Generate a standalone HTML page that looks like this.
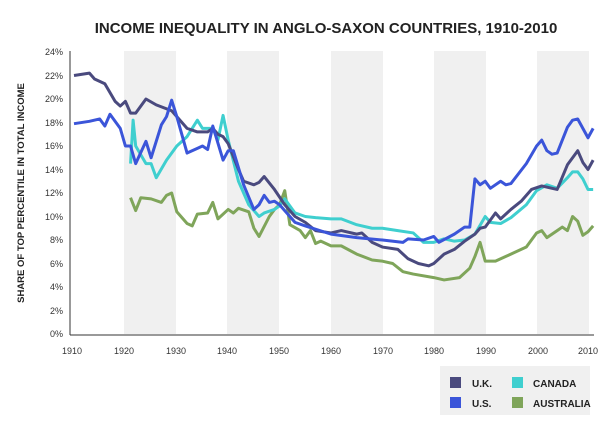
<!DOCTYPE html>
<html><head><style>
body{margin:0;background:#fff;width:600px;height:442px;overflow:hidden;font-family:"Liberation Sans",sans-serif}
</style></head><body>
<svg width="600" height="442" xmlns="http://www.w3.org/2000/svg" font-family="Liberation Sans, sans-serif">
<rect width="600" height="442" fill="#fff"/>
<text x="326" y="33" text-anchor="middle" font-size="15" font-weight="bold" fill="#222">INCOME INEQUALITY IN ANGLO-SAXON COUNTRIES, 1910-2010</text>
<g fill="#f0f0f0">
<rect x="124" y="51" width="52" height="283"/>
<rect x="227" y="51" width="52" height="283"/>
<rect x="331" y="51" width="52" height="283"/>
<rect x="434" y="51" width="52" height="283"/>
<rect x="537" y="51" width="52" height="283"/>
</g>
<g font-size="9" fill="#333" text-anchor="end">
<text x="63" y="337">0%</text><text x="63" y="314">2%</text><text x="63" y="290">4%</text><text x="63" y="267">6%</text><text x="63" y="243">8%</text><text x="63" y="220">10%</text><text x="63" y="196">12%</text><text x="63" y="173">14%</text><text x="63" y="149">16%</text><text x="63" y="126">18%</text><text x="63" y="102">20%</text><text x="63" y="79">22%</text><text x="63" y="55">24%</text>
</g>
<g font-size="9" fill="#333" text-anchor="middle">
<text x="72" y="354">1910</text><text x="124" y="354">1920</text><text x="176" y="354">1930</text><text x="227" y="354">1940</text><text x="279" y="354">1950</text><text x="331" y="354">1960</text><text x="383" y="354">1970</text><text x="434" y="354">1980</text><text x="486" y="354">1990</text><text x="538" y="354">2000</text><text x="588" y="354">2010</text>
</g>
<text transform="translate(24,193) rotate(-90)" text-anchor="middle" font-size="9.5" font-weight="bold" fill="#222">SHARE OF TOP PERCENTILE IN TOTAL INCOME</text>
<line x1="70" y1="51" x2="70" y2="335" stroke="#333" stroke-width="1"/>
<line x1="70" y1="335" x2="594" y2="335" stroke="#333" stroke-width="1"/>
<g transform="translate(74,334) scale(5.14,-11.75)" fill="none" stroke-width="3" stroke-linejoin="round">
<polyline vector-effect="non-scaling-stroke" stroke="#7fa55a" points="11,11.6 12,10.5 13,11.6 15,11.5 17,11.2 18,11.8 19,12 20,10.4 22,9.4 23,9.2 24,10.2 26,10.3 27,11.2 28,9.8 30,10.6 31,10.3 32,10.7 34,10.4 35,9 36,8.3 38,10 39,10.6 40,11 41,12.2 42,9.3 44,8.8 45,8.2 46,8.8 47,7.7 48,7.9 50,7.5 52,7.5 55,6.8 58,6.3 60,6.2 62,6 64,5.3 66,5.1 70,4.8 72,4.6 75,4.8 77,5.6 78,6.6 79,7.8 80,6.2 82,6.2 85,6.8 88,7.4 90,8.6 91,8.8 92,8.2 94,8.8 95,9.1 96,8.8 97,10 98,9.6 99,8.4 100,8.7 101,9.2"/>
<polyline vector-effect="non-scaling-stroke" stroke="#3fcfcf" points="11,14.5 11.5,18.2 12,16 14,14.5 15,14.5 16,13.3 18,14.8 20,16 22,16.8 24,18.2 25,17.5 27,17.5 28,16.5 29,18.6 30,16.5 32,13 34,11 36,10 37,10.3 39,10.6 40,10.9 41,11.5 43,10.3 45,10 47,9.9 50,9.8 52,9.8 55,9.3 58,9 60,9 63,8.8 66,8.6 68,7.8 70,7.8 72,8.1 74,7.9 76,8 78,8.5 80,10 81,9.5 83,9.4 85,9.9 88,11 90,12.2 92,12.7 94,12.4 96,13.3 97,13.8 98,13.8 99,13.2 100,12.3 101,12.3"/>
<polyline vector-effect="non-scaling-stroke" stroke="#4a4a7e" points="0,22 3,22.2 4,21.7 6,21.3 8,19.8 9,19.4 10,19.8 11,18.8 12,18.8 14,20 16,19.5 19,19 20,18.5 22,17.5 24,17.2 26,17.2 27,17.5 28,17 29,16.8 30,16.2 32,14 33,13 35,12.7 36,12.9 37,13.4 39,12.3 41,11 43,10 45,9.5 47,8.8 50,8.6 52,8.8 55,8.5 56,8.6 58,7.8 60,7.4 63,7.2 65,6.4 67,6 69,5.8 70,6 72,6.8 74,7.2 76,7.9 78,8.5 79,9 80,9.1 82,10.3 83,9.8 85,10.6 87,11.3 89,12.3 91,12.6 93,12.4 94,12.3 96,14.4 97,15 98,15.6 99,14.6 100,14 101,14.8"/>
<polyline vector-effect="non-scaling-stroke" stroke="#3b55d9" points="0,17.9 3,18.1 5,18.3 6,17.7 7,18.7 9,17.5 10,16 11,16 12,14.5 14,16.4 15,15 17,17.8 18,18.5 19,19.9 20,18.5 22,15.4 24,15.8 25,16 26,15.7 27,17.7 29,14.8 30,15.6 31,15.6 33,12.7 35,10.6 36,11 37,11.8 38,11.2 39,11.3 40,11 41,10.5 43,9.5 45,9.2 50,8.5 55,8.2 60,8 64,7.8 65,8.1 68,8 70,8.3 71,7.8 74,8.5 76,9.1 77,9.1 78,13.2 79,12.7 80,13 81,12.4 83,13 84,12.7 85,12.8 88,14.5 90,16 91,16.5 92,15.6 93,15.3 94,15.4 96,17.6 97,18.2 98,18.3 99,17.5 100,16.7 101,17.5"/>
</g>
<rect x="440" y="366" width="150" height="49" fill="#f0f0f0"/>
<rect x="450" y="377" width="11" height="11" fill="#4a4a7e"/>
<rect x="450" y="397" width="11" height="11" fill="#3b55d9"/>
<rect x="512" y="377" width="11" height="11" fill="#3fcfcf"/>
<rect x="512" y="397" width="11" height="11" fill="#7fa55a"/>
<g font-size="10" font-weight="bold" fill="#222">
<text x="472" y="387">U.K.</text><text x="472" y="407">U.S.</text>
<text x="533" y="387">CANADA</text><text x="533" y="407">AUSTRALIA</text>
</g>
</svg>
</body></html>
